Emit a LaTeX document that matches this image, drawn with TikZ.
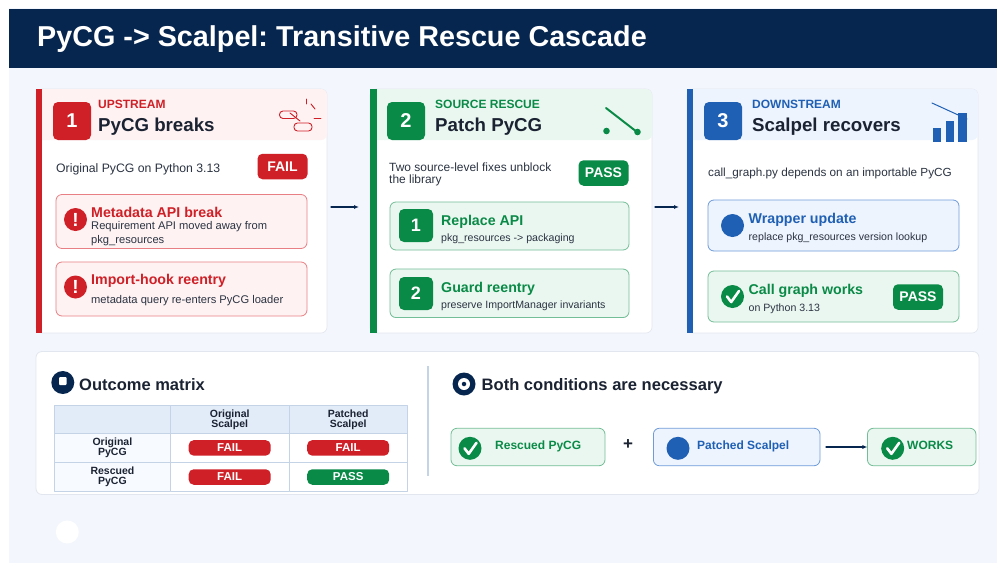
\documentclass[tikz,border=0pt]{standalone}
\usepackage{fontspec}
\setmainfont{Liberation Sans}
\usetikzlibrary{arrows.meta,positioning}

\definecolor{navy}{HTML}{06264F}
\definecolor{pagebg}{HTML}{F3F6FC}
\definecolor{ink}{HTML}{1B2333}
\definecolor{softink}{HTML}{2B3342}
\definecolor{shade}{HTML}{E2E6EE}
\definecolor{rulecol}{HTML}{C5D3E6}
\definecolor{redc}{HTML}{CF2027}
\definecolor{redtint}{HTML}{FEF2F2}
\definecolor{redline}{HTML}{E87F85}
\definecolor{greenc}{HTML}{0A8A47}
\definecolor{greentint}{HTML}{EAF7F0}
\definecolor{greenline}{HTML}{74BE97}
\definecolor{bluec}{HTML}{1F60B4}
\definecolor{bluetint}{HTML}{EEF4FE}
\definecolor{blueline}{HTML}{6F9BD8}
\definecolor{headcell}{HTML}{E2ECF9}
\definecolor{sidecell}{HTML}{F7FAFF}

\newcommand{\fsize}[1]{\fontsize{#1}{#1}\selectfont}
\frenchspacing

\tikzset{
    box/.style={inner sep=0pt, outer sep=0pt, rounded corners=#1},
    box/.default=5pt,
    card/.style={box=6pt, fill=white, draw=shade, line width=0.6pt, minimum height=244pt},
    panel/.style={box=6pt, fill=white, draw=shade, line width=0.8pt},
    tint/.style={box=6pt, minimum height=51pt},
    numbox/.style={box=5pt, minimum width=38pt, minimum height=38pt, text=white, font=\fsize{20}\bfseries},
    smallnum/.style={box=5pt, minimum width=34pt, minimum height=33pt, text=white, font=\fsize{18}\bfseries},
    badge/.style={box=5pt, minimum width=50pt, minimum height=25.5pt, text=white, font=\fsize{14}\bfseries},
    pill/.style={box=5pt, minimum width=82pt, minimum height=15.5pt, text=white, font=\fsize{11.5}\bfseries},
    dot/.style={circle, inner sep=0pt, outer sep=0pt, minimum size=23pt, text=white, font=\fsize{19}\bfseries},
    redbox/.style={box=6pt, fill=redtint, draw=redline, line width=0.8pt, minimum width=251pt, minimum height=54pt},
    greenbox/.style={box=6pt, fill=greentint, draw=greenline, line width=0.8pt},
    bluebox/.style={box=6pt, fill=bluetint, draw=blueline, line width=0.8pt},
    tag/.style={anchor=base west, inner sep=0pt, font=\fsize{12}\bfseries},
    cardtitle/.style={anchor=base west, inner sep=0pt, text=ink, font=\fsize{18.7}\bfseries},
    itemtitle/.style={anchor=base west, inner sep=0pt, font=\fsize{14.2}\bfseries},
    body/.style={anchor=base west, inner sep=0pt, text=softink, font=\fsize{12.25}},
    note/.style={anchor=base west, inner sep=0pt, text=softink, font=\fsize{11.15}},
    smallnote/.style={anchor=base west, inner sep=0pt, text=softink, font=\fsize{10.6}},
    celltext/.style={text=ink, align=center, font=\fontsize{10.5}{10}\selectfont\bfseries},
    cell/.style={inner sep=0pt, outer sep=0pt, draw=rulecol, line width=0.8pt, celltext},
    flow/.style={-{Latex[length=5pt,width=4pt]}, navy, line width=1.2pt},
    tick/.style={white, line width=2.6pt},
    icon/.style={line width=0.9pt, redc}
}

\newcommand{\tickin}[1]{\draw[tick] ([shift={(-5.5,0)}]#1.center) -- ([shift={(-1.3,5.5)}]#1.center) -- ([shift={(6.5,-5.5)}]#1.center);}

\begin{document}
\begin{tikzpicture}[x=1pt, y=-1pt, line cap=round, line join=round]
\useasboundingbox (0,0) rectangle (997,563);

% Page and title bar
\fill[white] (0,0) rectangle (997,563);
\fill[pagebg] (9,8) rectangle (997,563);
\fill[navy] (9,8.5) rectangle (997,68);
\node[anchor=base west, inner sep=0pt, text=white, font=\fsize{28.75}\bfseries] (title) at (37,46) {PyCG -> Scalpel: Transitive Rescue Cascade};

% Card 1: upstream ------------------------------
\node[card, minimum width=291pt] (cardone) at (181.5,211) {};
\node[tint, fill=redtint, minimum width=291pt] (headone) at (181.5,114.5) {};
\fill[redc] (36,89) rectangle (42,333);
\node[numbox, fill=redc] (numone) at (72,121) {1};
\node[tag, text=redc] (tagone) at (98,108) {UPSTREAM};
\node[cardtitle] (titleone) at (98,131) {PyCG breaks};

% broken link icon
\draw[icon, rounded corners=3.5pt] (279.5,111) rectangle (297,118.5);
\draw[icon, rounded corners=3.5pt] (294,123) rectangle (312,131);
\draw[icon] (290,113) -- (300,121);
\draw[icon] (306,99) -- (306,104);
\draw[icon] (311,104) -- (315,109);
\draw[icon] (314,118) -- (321,118);

\node[body] (textone) at (56,172) {Original PyCG on Python 3.13};
\node[badge, fill=redc] (failone) at (282.5,166.5) {FAIL};

\node[redbox] (metabox) at (181.5,221.5) {};
\node[dot, fill=redc] (metadot) at (75.5,219.5) {!};
\node[itemtitle, text=redc] (metatitle) at (91,217) {Metadata API break};
\node[note] (metanote) at (91,229) {Requirement API moved away from};
\node[note] (metanoteb) at (91,243) {pkg\_resources};

\node[redbox] (hookbox) at (181.5,289) {};
\node[dot, fill=redc] (hookdot) at (75.5,287) {!};
\node[itemtitle, text=redc] (hooktitle) at (91,284) {Import-hook reentry};
\node[note] (hooknote) at (91,303) {metadata query re-enters PyCG loader};

% Card 2: source rescue ------------------------------
\node[card, minimum width=282pt] (cardtwo) at (511,211) {};
\node[tint, fill=greentint, minimum width=282pt] (headtwo) at (511,114.5) {};
\fill[greenc] (370,89) rectangle (377,333);
\node[numbox, fill=greenc] (numtwo) at (406,121) {2};
\node[tag, text=greenc] (tagtwo) at (435,108) {SOURCE RESCUE};
\node[cardtitle] (titletwo) at (435,131) {Patch PyCG};

% switch icon
\draw[greenc, line width=2pt] (606,108) -- (637,132);
\fill[greenc] (606.5,131) circle (3.3);
\fill[greenc] (637.5,132) circle (3.3);

\node[body, align=left, font=\fontsize{11.95}{12}\selectfont, anchor=north west] (texttwo) at (389,163) {Two source-level fixes unblock\\the library};
\node[badge, fill=greenc] (passtwo) at (603.5,173) {PASS};

\node[greenbox, minimum width=239pt, minimum height=48pt] (apibox) at (509.5,226) {};
\node[smallnum, fill=greenc] (apinum) at (416,225.5) {1};
\node[itemtitle, text=greenc] (apititle) at (441,225) {Replace API};
\node[smallnote] (apinote) at (441,241) {pkg\_resources -> packaging};

\node[greenbox, minimum width=239pt, minimum height=48.5pt] (guardbox) at (509.5,293.3) {};
\node[smallnum, fill=greenc] (guardnum) at (416,293.5) {2};
\node[itemtitle, text=greenc] (guardtitle) at (441,292) {Guard reentry};
\node[smallnote] (guardnote) at (441,308) {preserve ImportManager invariants};

% Card 3: downstream ------------------------------
\node[card, minimum width=291pt] (cardthree) at (832.5,211) {};
\node[tint, fill=bluetint, minimum width=291pt] (headthree) at (832.5,114.5) {};
\fill[bluec] (687,89) rectangle (693,333);
\node[numbox, fill=bluec] (numthree) at (723,121) {3};
\node[tag, text=bluec] (tagthree) at (752,108) {DOWNSTREAM};
\node[cardtitle] (titlethree) at (752,131) {Scalpel recovers};

% bar chart icon
\fill[bluec] (932.5,128) rectangle (941,142);
\fill[bluec] (945.5,121) rectangle (954,142);
\fill[bluec] (958,113) rectangle (966.5,142);
\draw[bluec, line width=1pt] (932,103) -- (967,119);

\node[body, font=\fsize{11.75}] (textthree) at (708,176) {call\_graph.py depends on an importable PyCG};

\node[bluebox, minimum width=251pt, minimum height=51pt] (wrapbox) at (833.5,225.5) {};
\node[dot, fill=bluec] (wrapdot) at (732.5,225.5) {};
\node[itemtitle, text=bluec] (wraptitle) at (748.5,223) {Wrapper update};
\node[smallnote] (wrapnote) at (748.5,240) {replace pkg\_resources version lookup};

\node[greenbox, minimum width=251pt, minimum height=51pt] (callbox) at (833.5,296.5) {};
\node[dot, fill=greenc] (calldot) at (732.5,296.5) {};
\tickin{calldot}
\node[itemtitle, text=greenc] (calltitle) at (748.5,294) {Call graph works};
\node[smallnote] (callnote) at (748.5,311) {on Python 3.13};
\node[badge, fill=greenc] (passthree) at (918,297) {PASS};

% Flow between cards
\draw[flow] ([shift={(4,-4)}]cardone.east) -- ([shift={(-11,-4)}]cardtwo.west);
\draw[flow] ([shift={(3,-4)}]cardtwo.east) -- ([shift={(-8,-4)}]cardthree.west);

% Bottom panel ------------------------------
\node[panel, minimum width=943pt, minimum height=143pt] (bottom) at (507.5,423) {};
\node[dot, fill=navy] (matrixdot) at (62.8,382.5) {};
\node[box=1pt, fill=white, minimum width=7.6pt, minimum height=8pt] (matrixmark) at (62.8,381) {};
\node[anchor=base west, inner sep=0pt, text=ink, font=\fsize{16.5}\bfseries] (matrixtitle) at (79,390) {Outcome matrix};

% Outcome table
\node[cell, fill=headcell, minimum width=116pt, minimum height=28pt] (corner) at (112.4,419.4) {};
\node[cell, fill=headcell, minimum width=118.7pt, minimum height=28pt] (colone) at (229.7,419.4) {Original\\Scalpel};
\node[cell, fill=headcell, minimum width=118.3pt, minimum height=28pt] (coltwo) at (348.2,419.4) {Patched\\Scalpel};
\node[cell, fill=sidecell, minimum width=116pt, minimum height=29pt] (rowone) at (112.4,447.9) {Original\\PyCG};
\node[cell, fill=white, minimum width=118.7pt, minimum height=29pt] (cellaa) at (229.7,447.9) {};
\node[cell, fill=white, minimum width=118.3pt, minimum height=29pt] (cellab) at (348.2,447.9) {};
\node[cell, fill=sidecell, minimum width=116pt, minimum height=29.3pt] (rowtwo) at (112.4,477) {Rescued\\PyCG};
\node[cell, fill=white, minimum width=118.7pt, minimum height=29.3pt] (cellba) at (229.7,477) {};
\node[cell, fill=white, minimum width=118.3pt, minimum height=29.3pt] (cellbb) at (348.2,477) {};
\node[pill, fill=redc] (pillaa) at (cellaa.center) {FAIL};
\node[pill, fill=redc] (pillab) at (cellab.center) {FAIL};
\node[pill, fill=redc] (pillba) at (cellba.center) {FAIL};
\node[pill, fill=greenc] (pillbb) at (cellbb.center) {PASS};

% Divider
\fill[rulecol] (427,366) rectangle (429,476);

% Conditions
\node[dot, fill=navy] (condot) at (464,384) {};
\node[circle, fill=white, inner sep=0pt, minimum size=12pt] (conring) at (464,384) {};
\node[circle, fill=navy, inner sep=0pt, minimum size=4.5pt] (conpip) at (464,384) {};
\node[anchor=base west, inner sep=0pt, text=ink, font=\fsize{16.55}\bfseries] (contitle) at (481.5,390) {Both conditions are necessary};

\node[greenbox, minimum width=154pt, minimum height=37.5pt] (rescued) at (528,447) {};
\node[dot, fill=greenc] (rescueddot) at (470,448.3) {};
\tickin{rescueddot}
\node[tag, text=greenc] (rescuedtext) at (495,449.3) {Rescued PyCG};

\node[anchor=center, inner sep=0pt, text=ink, font=\fsize{17}\bfseries] (plus) at (628,444.5) {+};

\node[bluebox, minimum width=166.6pt, minimum height=37.5pt] (patched) at (736.7,447) {};
\node[dot, fill=bluec] (patcheddot) at (678,448.3) {};
\node[tag, text=bluec] (patchedtext) at (697,449.3) {Patched Scalpel};

\node[greenbox, minimum width=108.5pt, minimum height=37.5pt] (works) at (921.7,447) {};
\node[dot, fill=greenc] (worksdot) at (892.7,448.3) {};
\tickin{worksdot}
\node[tag, text=greenc] (workstext) at (907,449.3) {WORKS};

\draw[flow] ([xshift=6pt]patched.east) -- (works.west);

% Footer mark
\node[dot, fill=white] (footdot) at (67.3,532) {};

\end{tikzpicture}
\end{document}
